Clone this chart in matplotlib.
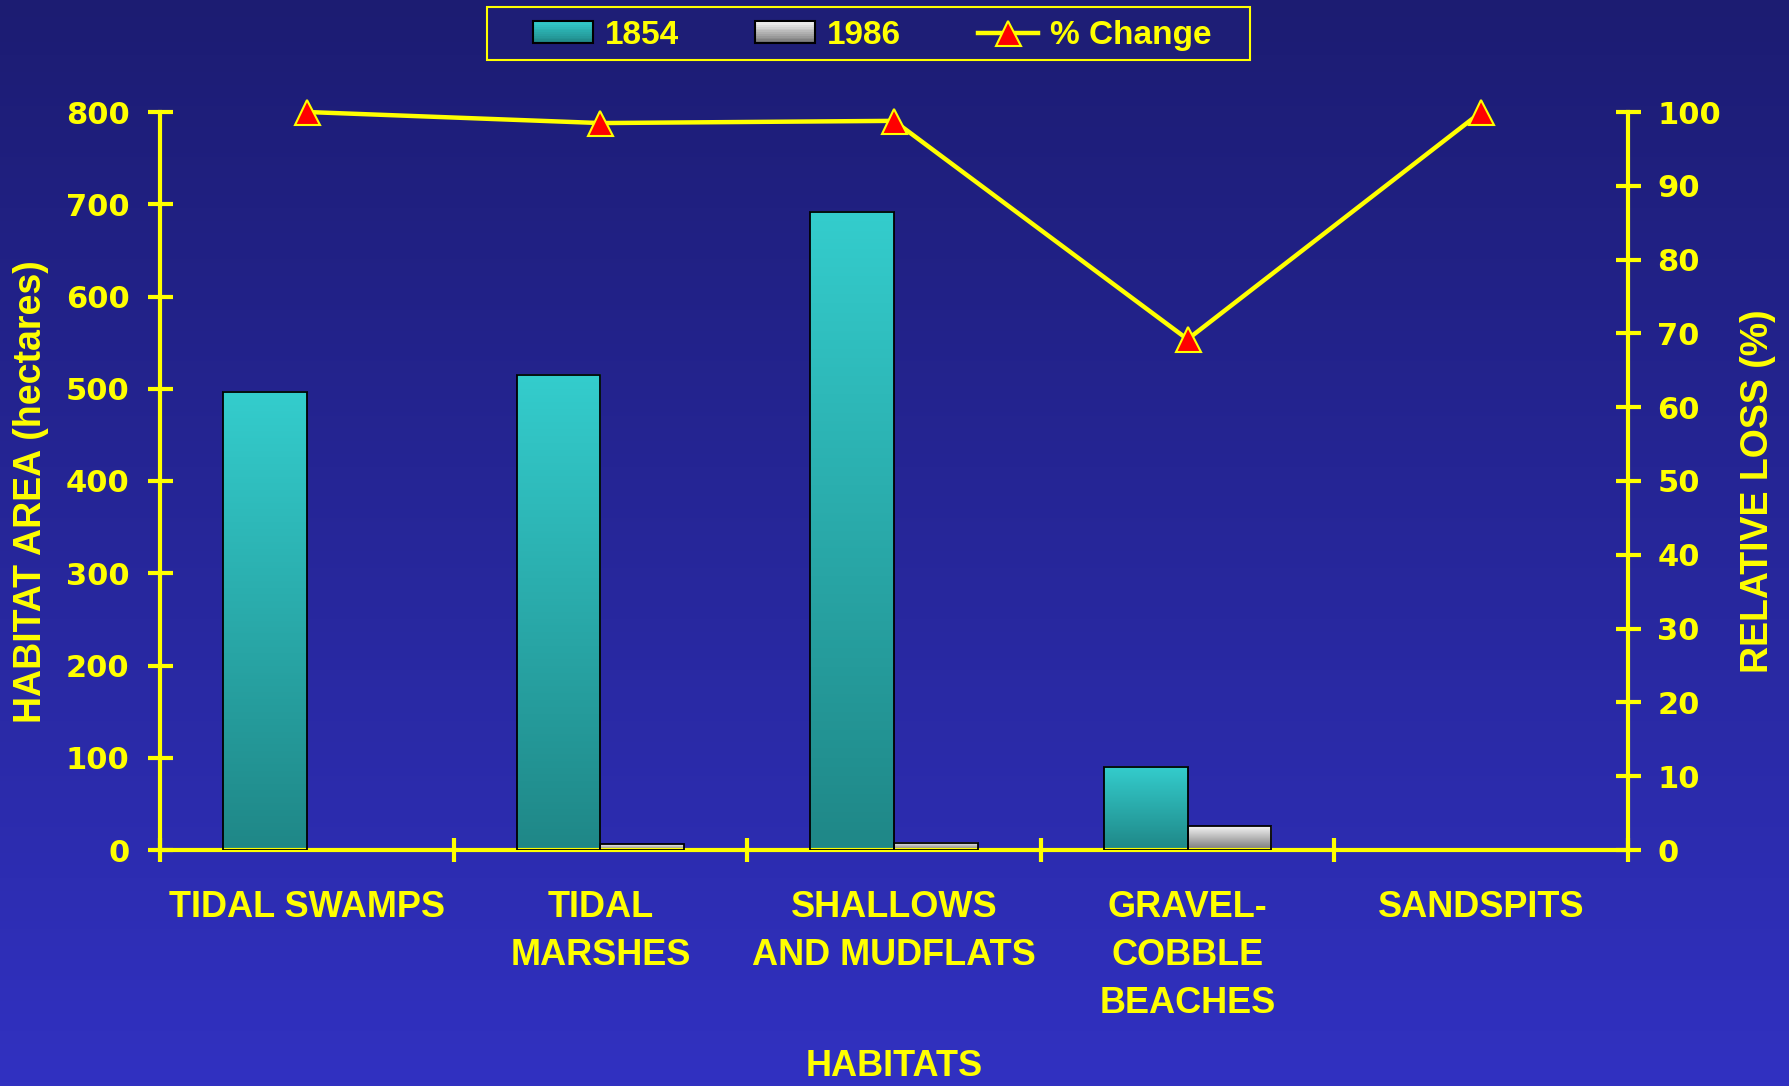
import numpy as np
import matplotlib
matplotlib.use("Agg")
import matplotlib.pyplot as plt
from matplotlib.colors import LinearSegmentedColormap
from matplotlib.legend_handler import HandlerBase
from matplotlib.patches import Rectangle, Patch
from matplotlib.lines import Line2D

# data
habitats = ['TIDAL SWAMPS', 'TIDAL\nMARSHES', 'SHALLOWS\nAND MUDFLATS',
            'GRAVEL-\nCOBBLE\nBEACHES', 'SANDSPITS']
area_1854 = [497, 515, 692, 90, 0]
area_1986 = [0, 6, 8, 26, 0]
pct_change = [100, 98.5, 98.8, 69.2, 100]
area_ticks = list(range(0, 801, 100))
pct_ticks = list(range(0, 101, 10))

YELLOW = '#ffff00'
ARIAL = 'Liberation Sans'
teal_cmap = LinearSegmentedColormap.from_list('teal', ['#1f8787', '#34cdcd'])
grey_cmap = LinearSegmentedColormap.from_list('grey', ['#777777', '#f4f4f4'])
bg_cmap = LinearSegmentedColormap.from_list('bg', ['#3131c1', '#1c1c72'])


class GradientHandler(HandlerBase):
    # legend box filled with horizontal strips so it looks like the bars
    def __init__(self, cmap, n=12):
        super().__init__()
        self.cmap = cmap
        self.n = n

    def create_artists(self, legend, orig_handle, xdescent, ydescent,
                       width, height, fontsize, trans):
        arts = []
        for i in range(self.n):
            c = self.cmap(i / (self.n - 1))
            arts.append(Rectangle((-xdescent, -ydescent + height * i / self.n),
                                  width, height / self.n + 0.5, facecolor=c,
                                  edgecolor='none', transform=trans))
        arts.append(Rectangle((-xdescent, -ydescent), width, height,
                              facecolor='none', edgecolor='black', lw=1.5,
                              transform=trans))
        return arts


fig = plt.figure(figsize=(17.9, 10.86), dpi=100)

# background gradient
bg = fig.add_axes([0, 0, 1, 1], zorder=-10)
bg.imshow(np.linspace(0, 1, 256).reshape(-1, 1), cmap=bg_cmap, aspect='auto',
          extent=[0, 1, 0, 1], origin='lower')
bg.axis('off')

ax = fig.add_axes([160 / 1790, 1 - 850 / 1086, 1468 / 1790, 738 / 1086])
ax.set_facecolor('none')

x = np.arange(len(habitats))
w = 0.285
grad = np.linspace(0, 1, 256).reshape(-1, 1)
for vals, off, cmap in [(area_1854, -w / 2, teal_cmap), (area_1986, w / 2, grey_cmap)]:
    bars = ax.bar(x + off, vals, width=w, facecolor='none', edgecolor='black',
                  linewidth=1.3, zorder=3)
    for b in bars:
        if b.get_height() > 0:
            ax.imshow(grad, cmap=cmap, aspect='auto', origin='lower', zorder=2,
                      extent=[b.get_x(), b.get_x() + b.get_width(), 0, b.get_height()])
        else:
            b.set_visible(False)

ax.set_xlim(-0.5, len(habitats) - 0.5)
ax.set_ylim(0, 800)
ax.set_yticks(area_ticks)
ax.set_xticks(x)
ax.set_xticklabels(habitats, fontsize=26, fontweight='bold', color=YELLOW,
                   family=ARIAL, linespacing=1.47)
ax.set_xticks(np.arange(-0.5, len(habitats)), minor=True)
ax.tick_params(axis='x', which='major', length=0, pad=29)
ax.tick_params(axis='x', which='minor', direction='inout', length=17, width=3, color=YELLOW)
ax.tick_params(axis='y', direction='inout', length=18, width=3, color=YELLOW,
               labelcolor=YELLOW, labelsize=22, pad=13)
for t in ax.get_yticklabels():
    t.set_fontweight('bold')
for s in ['top', 'right']:
    ax.spines[s].set_visible(False)
for s in ['left', 'bottom']:
    ax.spines[s].set_color(YELLOW)
    ax.spines[s].set_linewidth(3)

ax2 = ax.twinx()
ax2.set_facecolor('none')
ax2.plot(x, pct_change, color=YELLOW, lw=3.2, marker='^', ms=18,
         markerfacecolor='red', markeredgecolor=YELLOW, mew=1.5, clip_on=False, zorder=5)
ax2.set_ylim(0, 100)
ax2.set_yticks(pct_ticks)
ax2.tick_params(axis='y', direction='inout', length=18, width=3, color=YELLOW,
                labelcolor=YELLOW, labelsize=22, pad=12)
for t in ax2.get_yticklabels():
    t.set_fontweight('bold')
for s in ['top', 'left', 'bottom']:
    ax2.spines[s].set_visible(False)
ax2.spines['right'].set_color(YELLOW)
ax2.spines['right'].set_linewidth(3)

# axis titles
fig.text(31 / 1790, 1 - 492 / 1086, 'HABITAT AREA (hectares)', rotation=90,
         ha='center', va='center', color=YELLOW, fontsize=27, fontweight='bold',
         family=ARIAL)
fig.text(1758 / 1790, 1 - 491 / 1086, 'RELATIVE LOSS (%)', rotation=90,
         ha='center', va='center', color=YELLOW, fontsize=27, fontweight='bold',
         family=ARIAL)
fig.text(894 / 1790, 2 / 1086, 'HABITATS', ha='center', va='bottom',
         color=YELLOW, fontsize=26, fontweight='bold', family=ARIAL)

# legend: frame drawn separately so its wide side margins match
fig.patches.append(Rectangle((487 / 1790, 1 - 60 / 1086), 763 / 1790, 53 / 1086,
                             transform=fig.transFigure, facecolor='#1e1e76',
                             edgecolor=YELLOW, lw=1.5, zorder=-5))
h1854 = Patch()
h1986 = Patch()
hline = Line2D([], [], color=YELLOW, lw=3.2, marker='^', ms=18,
               markerfacecolor='red', markeredgecolor=YELLOW, mew=1.5)
leg = fig.legend([h1854, h1986, hline], ['1854', '1986', '% Change'],
                 loc='center', bbox_to_anchor=(872 / 1790, 1 - 35.5 / 1086), ncol=3,
                 prop={'family': ARIAL, 'weight': 'bold', 'size': 24},
                 labelcolor=YELLOW, frameon=False, handlelength=1.8, handleheight=0.62,
                 handletextpad=0.35, columnspacing=2.3, borderpad=0.2,
                 handler_map={h1854: GradientHandler(teal_cmap),
                              h1986: GradientHandler(grey_cmap)})

fig.savefig('out.png', dpi=100)
